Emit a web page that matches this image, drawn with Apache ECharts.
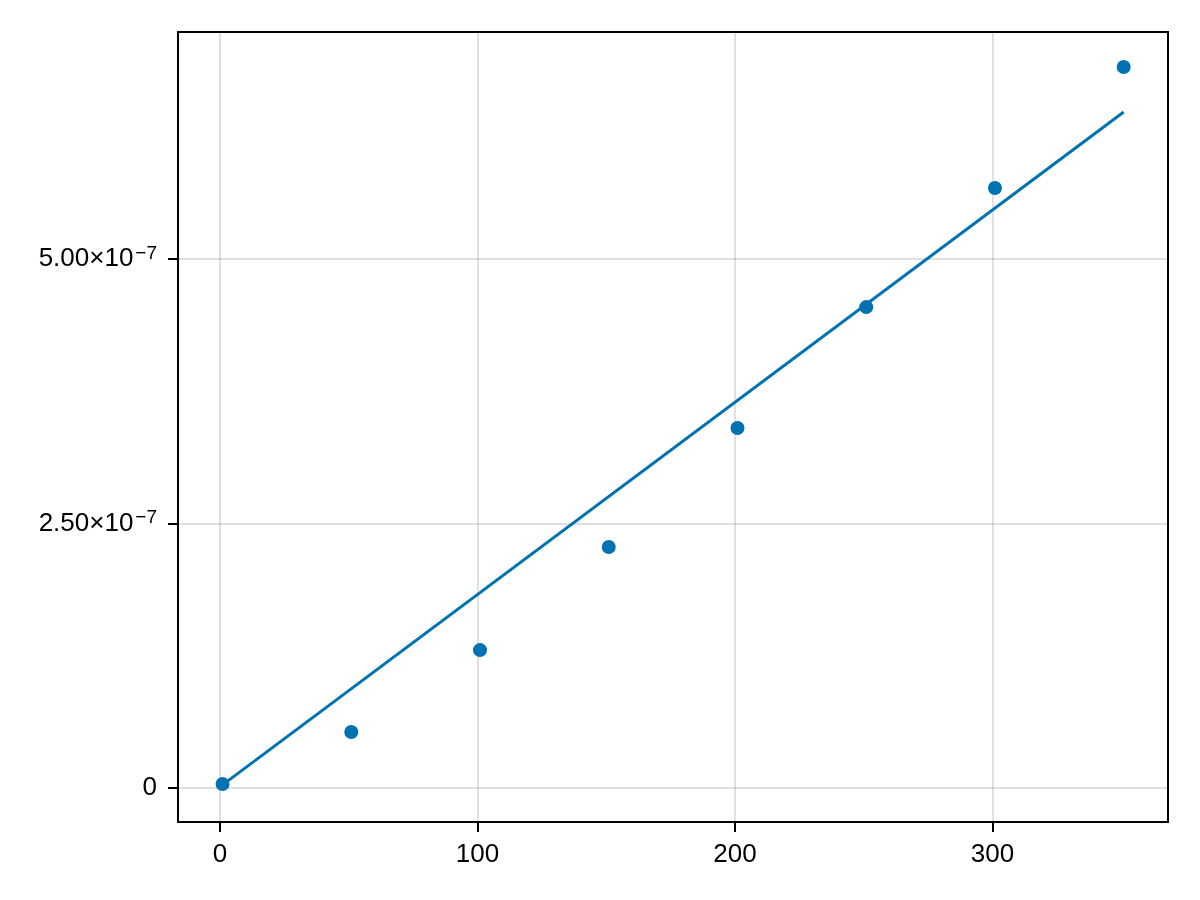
<!DOCTYPE html>
<html>
<head>
<meta charset="utf-8">
<script src="https://cdn.jsdelivr.net/npm/echarts@6/dist/echarts.min.js"></script>
<style>
  html, body { margin: 0; padding: 0; background: #fff; }
  #chart { width: 1200px; height: 900px; }
</style>
</head>
<body>
<div id="chart"></div>
<script>
// measured points
const xs = [1, 51, 101, 151, 201, 251, 301, 351];
const ys = [3.8e-9, 5.29e-8, 1.304e-7, 2.278e-7, 3.403e-7, 4.546e-7, 5.671e-7, 6.815e-7];
// fitted line, end points
const fitX = [1, 351];
const fitY = [3e-9, 6.39e-7];
// ticks
const xTicks = [0, 100, 200, 300];
const yTicks = [0, 2.5e-7, 5e-7];
const yTickLabels = ['0', '2.50×10^−7', '5.00×10^−7'];

const blue = '#0072B2';
const font = 'Liberation Sans, Arial, sans-serif';

const chart = echarts.init(document.getElementById('chart'));

const option = {
  animation: false,
  grid: {
    left: 178, right: 32, top: 32, bottom: 78,
    show: true,
    borderColor: '#000',
    borderWidth: 2,
    backgroundColor: 'transparent'
  },
  xAxis: {
    type: 'value',
    min: -16.3,
    max: 368.2,
    axisLine: { show: false, onZero: false },
    axisTick: {
      show: true, length: 10, inside: false,
      customValues: xTicks,
      lineStyle: { color: '#000', width: 2 }
    },
    axisLabel: {
      customValues: xTicks,
      margin: 20,
      fontSize: 26,
      color: '#000',
      fontFamily: font
    },
    splitLine: { show: true, lineStyle: { color: 'rgba(0,0,0,0.12)', width: 2 } }
  },
  yAxis: {
    type: 'value',
    min: -3.21e-8,
    max: 7.146e-7,
    axisLine: { show: false, onZero: false },
    axisTick: {
      show: true, length: 10, inside: false,
      customValues: yTicks,
      lineStyle: { color: '#000', width: 2 }
    },
    axisLabel: {
      customValues: yTicks,
      margin: 21,
      color: '#000',
      fontFamily: font,
      formatter: function (v) {
        const i = yTicks.findIndex(t => Math.abs(t - v) < 1e-12);
        const s = i >= 0 ? yTickLabels[i] : '';
        if (s.indexOf('^') < 0) return '{m|' + s + '}';
        const parts = s.split('^');
        return '{m|' + parts[0] + '}{s|' + parts[1] + '}';
      },
      rich: {
        m: { fontSize: 26, fontFamily: font, color: '#000', lineHeight: 30 },
        s: { fontSize: 19, fontFamily: font, color: '#000', verticalAlign: 'top', lineHeight: 22, padding: [0, 0, 0, 2] }
      }
    },
    splitLine: { show: true, lineStyle: { color: 'rgba(0,0,0,0.12)', width: 2 } }
  },
  series: [
    {
      type: 'line',
      data: fitX.map((x, i) => [x, fitY[i]]),
      showSymbol: false,
      lineStyle: { color: blue, width: 3 },
      z: 2
    },
    {
      type: 'scatter',
      data: xs.map((x, i) => [x, ys[i]]),
      symbolSize: 14,
      itemStyle: { color: blue, opacity: 1 },
      z: 3
    }
  ]
};

chart.setOption(option);
</script>
</body>
</html>
